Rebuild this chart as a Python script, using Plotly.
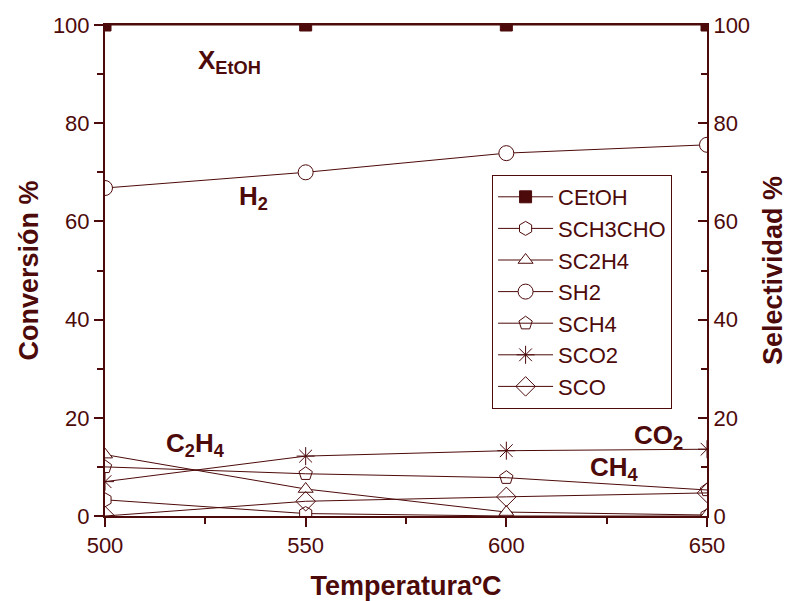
import plotly.graph_objects as go

# Temperature steps (ºC)
temperatura = [500, 550, 600, 650]

# Ethanol conversion (%) and product selectivities (%)
c_etoh = [100, 100, 100, 100]
s_ch3cho = [3.3, 0.5, 0.0, 0.0]
s_c2h4 = [12.5, 5.5, 0.8, 0.2]
s_h2 = [66.8, 70.0, 73.9, 75.6]
s_ch4 = [10.0, 8.6, 7.8, 5.3]
s_co2 = [7.0, 12.2, 13.3, 13.6]
s_co = [0.0, 3.0, 3.9, 4.7]

COL = "#4d0a0a"
FONT = "Liberation Sans, Arial, sans-serif"

series = [
    ("CEtOH", c_etoh, "square", COL, "y"),
    ("SCH3CHO", s_ch3cho, "hexagon", "white", "y2"),
    ("SC2H4", s_c2h4, "triangle-up", "white", "y2"),
    ("SH2", s_h2, "circle", "white", "y2"),
    ("SCH4", s_ch4, "pentagon-open", None, "y2"),
    ("SCO2", s_co2, "asterisk-open", None, "y2"),
    ("SCO", s_co, "diamond-open", None, "y2"),
]

sizes = {"square": 12, "hexagon": 14, "triangle-up": 13, "circle": 15,
         "pentagon-open": 14, "asterisk-open": 15, "diamond-open": 15}

fig = go.Figure()
for name, vals, sym, fill, yax in series:
    marker = dict(symbol=sym, size=sizes[sym],
                  line=dict(color=COL, width=1),
                  color=fill if fill is not None else COL)
    fig.add_trace(go.Scatter(
        x=temperatura, y=vals, name=name, mode="lines+markers",
        line=dict(color=COL, width=1), marker=marker, yaxis=yax,
        cliponaxis=True,
    ))

axis_font = dict(family=FONT, size=22, color=COL)
title_font = dict(family=FONT, size=27, color=COL)

fig.update_layout(
    width=788, height=601,
    margin=dict(l=105, r=81, t=25, b=85, autoexpand=False),
    paper_bgcolor="white", plot_bgcolor="white",
    font=dict(family=FONT, color=COL),
    showlegend=True,
    legend=dict(
        x=0.643, y=0.6945, xanchor="left", yanchor="top",
        bgcolor="white", bordercolor=COL, borderwidth=1,
        font=dict(family=FONT, size=22, color=COL),
        itemwidth=55, tracegroupgap=0,
    ),
    xaxis=dict(
        range=[500, 650], dtick=50, tick0=500, automargin=False,
        showgrid=False, zeroline=False,
        showline=True, linecolor=COL, linewidth=2, mirror=True,
        ticks="outside", ticklen=9, tickwidth=2, tickcolor=COL,
        minor=dict(dtick=25, ticks="outside", ticklen=6, tickwidth=2, tickcolor=COL),
        tickfont=axis_font,
        title=dict(text="<b>TemperaturaºC</b>", font=title_font, standoff=22),
    ),
    yaxis=dict(
        range=[0, 100], dtick=20, automargin=False,
        showgrid=False, zeroline=False,
        showline=True, linecolor=COL, linewidth=2,
        ticks="outside", ticklen=9, tickwidth=2, tickcolor=COL,
        minor=dict(dtick=10, ticks="outside", ticklen=6, tickwidth=2, tickcolor=COL),
        tickfont=axis_font,
        title=dict(text="<b>Conversión %</b>", font=title_font, standoff=6),
    ),
    yaxis2=dict(
        range=[0, 100], dtick=20, overlaying="y", side="right", automargin=False,
        showgrid=False, zeroline=False,
        showline=True, linecolor=COL, linewidth=2,
        ticks="inside", ticklen=9, tickwidth=2, tickcolor=COL,
        minor=dict(dtick=10, ticks="inside", ticklen=6, tickwidth=2, tickcolor=COL),
        tickfont=axis_font,
        title=dict(text="<b>Selectividad %</b>", font=title_font, standoff=24),
    ),
)

labels = [
    ("X<sub>EtOH</sub>", 531, 92.6),
    ("H<sub>2</sub>", 537, 64.8),
    ("C<sub>2</sub>H<sub>4</sub>", 522.5, 14.5),
    ("CO<sub>2</sub>", 638, 16.2),
    ("CH<sub>4</sub>", 627, 9.7),
]
for text, x, y in labels:
    fig.add_annotation(
        x=x, y=y, xref="x", yref="y", text=f"<b>{text}</b>",
        showarrow=False, font=dict(family=FONT, size=26, color=COL),
    )

fig.write_html("out.html")
